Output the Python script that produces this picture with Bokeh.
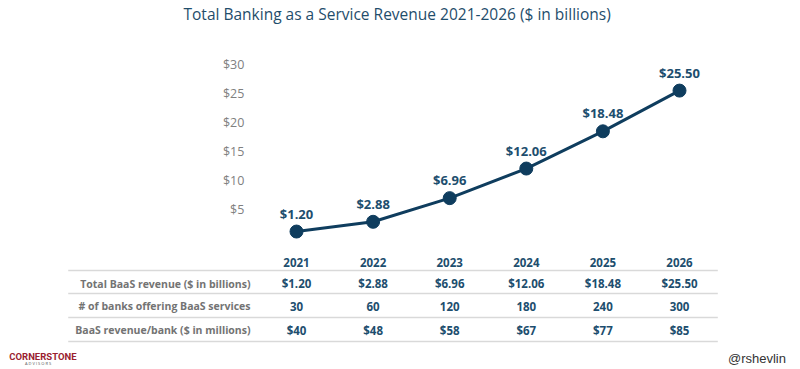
from bokeh.plotting import figure
from bokeh.models import ColumnDataSource, Range1d
from bokeh.core.properties import value
from bokeh.embed import file_html
from bokeh.resources import INLINE

years = ["2021", "2022", "2023", "2024", "2025", "2026"]
revenue = [1.20, 2.88, 6.96, 12.06, 18.48, 25.50]
banks = [30, 60, 120, 180, 240, 300]
rev_per_bank = [40, 48, 58, 67, 77, 85]
y_ticks = [5, 10, 15, 20, 25, 30]
row_labels = ["Total BaaS revenue ($ in billions)",
              "# of banks offering BaaS services",
              "BaaS revenue/bank ($ in millions)"]

NAVY = "#0f3d5e"
TEAL = "#1d4e6e"
GRAY = "#737373"
FONT = value("Open Sans")

W, H = 800, 369
T = 24  # approx title panel height
px_per_idx = 76.6
px_per_val = 5.8
x0_px = 296.0  # x of first year
y0_px = 238.0  # y (from top) of value 0

x_start = -x0_px / px_per_idx
x_end = (W - x0_px) / px_per_idx
y_end = (y0_px - T) / px_per_val
y_start = (y0_px - H) / px_per_val

p = figure(width=W, height=H, output_backend="svg", toolbar_location=None,
           x_range=Range1d(x_start, x_end), y_range=Range1d(y_start, y_end),
           min_border=0, outline_line_color=None,
           title="Total Banking as a Service Revenue 2021-2026 ($ in billions)")
p.axis.visible = False
p.grid.visible = False
p.title.align = "left"
p.title.offset = 183
p.title.text_font = "Open Sans"
p.title.text_font_size = "15.5px"
p.title.text_font_style = "normal"
p.title.text_color = "#1f4d6b"
p.title.standoff = 0

idx = list(range(len(years)))
src = ColumnDataSource(dict(x=idx, y=revenue,
                            lab=[f"${v:.2f}" for v in revenue],
                            year=years,
                            r1=[f"${v:.2f}" for v in revenue],
                            r2=[str(v) for v in banks],
                            r3=[f"${v}" for v in rev_per_bank]))

# y tick labels
tick_x = -0.68
p.text(x=[tick_x] * len(y_ticks), y=y_ticks, text=[f"${t}" for t in y_ticks],
       text_font=FONT, text_font_size="12.5px", text_color="#808080",
       text_align="right", text_baseline="middle")

# line + markers
p.line("x", "y", source=src, line_color=NAVY, line_width=3)
p.scatter("x", "y", source=src, size=13, fill_color=NAVY, line_color=NAVY)
p.text("x", "y", text="lab", source=src, y_offset=-18,
       text_font=FONT, text_font_style="bold", text_font_size="13px",
       text_color=TEAL, text_align="center", text_baseline="middle")

# table
header_y = -4.14
row_ys = [-7.76, -11.72, -15.86]
line_ys = [-5.52, -9.48, -13.62, -17.76]
line_x0, line_x1 = -2.98, 5.50

p.segment(x0=[line_x0] * 4, x1=[line_x1] * 4, y0=line_ys, y1=line_ys,
          line_color="#d9d9d9", line_width=1.5)
p.text(x="x", y=header_y, text="year", source=src,
       text_font=FONT, text_font_style="bold", text_font_size="11.5px",
       text_color=TEAL, text_align="center", text_baseline="middle")
for col, ry in zip(["r1", "r2", "r3"], row_ys):
    p.text(x="x", y=ry, text=col, source=src,
           text_font=FONT, text_font_style="bold", text_font_size="11.5px",
           text_color=TEAL, text_align="center", text_baseline="middle")
p.text(x=[-0.60] * 3, y=row_ys, text=row_labels,
       text_font=FONT, text_font_style="bold", text_font_size="10.5px",
       text_color=GRAY, text_align="right", text_baseline="middle")

# footer
p.text(x=[x_start + 0.115], y=[-20.35], text=["CORNERSTONE"],
       text_font=value("Roboto"), text_font_style="bold",
       text_font_size="9.5px", text_color="#9a2230",
       text_align="left", text_baseline="middle")
p.text(x=[x_start + 0.49], y=[-21.6], text=["A D V I S O R S"],
       text_font=FONT, text_font_size="4px", text_color="#555555",
       text_align="center", text_baseline="middle")
p.text(x=[x_end - 0.19], y=[-20.7], text=["@rshevlin"],
       text_font=value("Liberation Sans"), text_font_size="13px",
       text_color="#333333", text_align="right", text_baseline="middle")

open("out.html", "w").write(file_html(p, INLINE))
